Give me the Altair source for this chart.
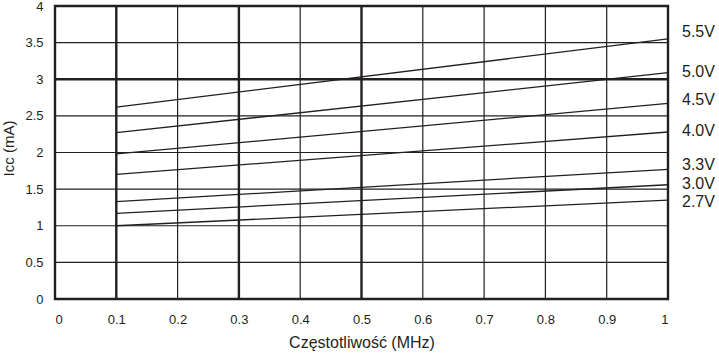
import altair as alt
import pandas as pd

# ---- data ----
series = ["5.5V", "5.0V", "4.5V", "4.0V", "3.3V", "3.0V", "2.7V"]
freq_start = 0.1
freq_end = 1.0
icc_start = [2.62, 2.27, 1.98, 1.70, 1.33, 1.17, 1.00]
icc_end = [3.55, 3.09, 2.67, 2.28, 1.77, 1.56, 1.35]
label_y = [3.64, 3.10, 2.72, 2.30, 1.83, 1.57, 1.33]

x_ticks = [0, 0.1, 0.2, 0.3, 0.4, 0.5, 0.6, 0.7, 0.8, 0.9, 1]
y_ticks = [0, 0.5, 1, 1.5, 2, 2.5, 3, 3.5, 4]
x_grid_thin = [0.2, 0.4, 0.6, 0.7, 0.8, 0.9]
x_grid_thick = [0.1, 0.3, 0.5]
y_grid_thin = [0.5, 1, 1.5, 2, 2.5, 3.5]
y_grid_thick = [3]

INK = "#231f20"
FONT = "Liberation Sans"

rows = []
for s, a, b in zip(series, icc_start, icc_end):
    rows.append({"series": s, "x": freq_start, "y": a})
    rows.append({"series": s, "x": freq_end, "y": b})
lines_df = pd.DataFrame(rows)
labels_df = pd.DataFrame({"series": series, "x": [freq_end] * len(series), "y": label_y})

xs = alt.Scale(domain=[0, 1], nice=False, zero=False)
ys = alt.Scale(domain=[0, 4], nice=False, zero=False)

x_axis = alt.Axis(
    values=x_ticks, format="~g", grid=False, ticks=False, tickSize=0, domain=False,
    labelPadding=14, labelFontSize=13, labelColor=INK, labelFont=FONT,
    title="Częstotliwość (MHz)", titleFontSize=16, titleFont=FONT, titleColor=INK,
    titleFontWeight="normal", titleY=48, titleBaseline="alphabetic",
)
y_axis = alt.Axis(
    values=y_ticks, format="~g", grid=False, ticks=False, tickSize=0, domain=False,
    labelPadding=12, labelFontSize=13, labelColor=INK, labelFont=FONT,
    title="Iᴄᴄ (mA)", titleFontSize=15, titleFont=FONT, titleColor=INK,
    titleFontWeight="normal", titleX=-47, titleY=142, titleAngle=270,
    titleAlign="center", titleBaseline="middle",
)

def xenc():
    return alt.X("x:Q", scale=xs, axis=x_axis)

def yenc():
    return alt.Y("y:Q", scale=ys, axis=y_axis)

vthin = alt.Chart(pd.DataFrame({"x": x_grid_thin})).mark_rule(color=INK, strokeWidth=1.2).encode(x=xenc())
vthick = alt.Chart(pd.DataFrame({"x": x_grid_thick})).mark_rule(color=INK, strokeWidth=2.4).encode(x=xenc())
hthin = alt.Chart(pd.DataFrame({"y": y_grid_thin})).mark_rule(color=INK, strokeWidth=1.2).encode(y=yenc())
hthick = alt.Chart(pd.DataFrame({"y": y_grid_thick})).mark_rule(color=INK, strokeWidth=2.4).encode(y=yenc())

lines = alt.Chart(lines_df).mark_line(color=INK, strokeWidth=1.3).encode(
    x=xenc(), y=yenc(), detail="series:N"
)
labels = alt.Chart(labels_df).mark_text(
    align="left", baseline="middle", dx=14, fontSize=16, font=FONT, color=INK
).encode(x=xenc(), y=yenc(), text="series:N")

chart = alt.layer(vthin, vthick, hthin, hthick, lines, labels).properties(
    width=613, height=293,
    autosize=alt.AutoSizeParams(type="none"),
    padding={"left": 55, "top": 6, "right": 51, "bottom": 55},
    background="white",
).configure_view(stroke=INK, strokeWidth=2.4)

chart.save("out.html", embed_options={"renderer": "svg", "actions": False})
